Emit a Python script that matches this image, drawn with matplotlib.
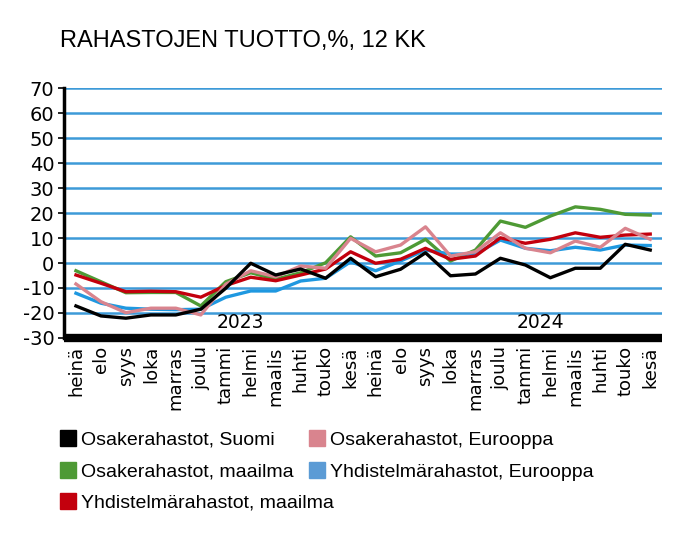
import matplotlib
matplotlib.use("Agg")
import matplotlib.pyplot as plt
from matplotlib.lines import Line2D

plt.rcParams["axes.unicode_minus"] = False

months = ["heinä", "elo", "syys", "loka", "marras", "joulu", "tammi", "helmi",
          "maalis", "huhti", "touko", "kesä",
          "heinä", "elo", "syys", "loka", "marras", "joulu", "tammi", "helmi",
          "maalis", "huhti", "touko", "kesä"]

# 12 kk tuotot, %
osake_suomi = [-17.2, -21.2, -22.1, -20.8, -20.8, -18.5, -10.1, -0.1, -4.8, -2.4, -6.1, 1.9,
               -5.5, -2.5, 4.1, -5.1, -4.4, 1.9, -0.8, -5.9, -2.1, -2.1, 7.5, 5.2]
osake_eurooppa = [-8.4, -15.5, -19.9, -18.1, -18.1, -20.8, -8.5, -3.1, -5.5, -1.2, -2.1, 9.9,
                  4.5, 7.2, 14.5, 2.8, 4.5, 12.1, 5.9, 4.1, 8.8, 6.3, 13.9, 9.5]
osake_maailma = [-3.1, -7.5, -11.9, -11.8, -11.8, -17.2, -7.5, -3.9, -6.5, -3.9, 0.1, 10.5,
                 2.8, 4.1, 9.5, 0.8, 5.2, 16.8, 14.3, 18.8, 22.5, 21.5, 19.5, 19.2]
yhd_eurooppa = [-12.1, -16.1, -18.1, -18.5, -18.7, -18.5, -13.7, -11.2, -11.2, -7.2, -6.1, 0.5,
                -3.1, 0.8, 5.2, 3.6, 3.6, 9.2, 5.9, 4.9, 6.3, 5.2, 7.2, 7.0]
yhd_maailma = [-4.8, -8.1, -11.5, -11.3, -11.5, -13.7, -9.0, -5.7, -7.1, -4.8, -2.4, 4.5,
               -0.1, 1.5, 5.9, 1.5, 2.8, 10.1, 7.9, 9.5, 12.1, 10.3, 11.2, 11.6]

c_black = "#000000"
c_pink = "#d9848e"
c_green = "#4e9a35"
c_blue = "#1f98e0"
c_red = "#c3000d"
c_grid = "#3d9ad8"

fig = plt.figure(figsize=(7, 5.45), dpi=100)
ax = fig.add_axes([0.0914, 0.380, 0.8546, 0.458])

x = list(range(len(months)))

for yv in range(-20, 71, 10):
    ax.axhline(yv, color=c_grid, lw=1.8, zorder=1)

lw = 2.4
ax.plot(x, osake_maailma, color=c_green, lw=lw, zorder=3)
ax.plot(x, yhd_eurooppa, color=c_blue, lw=lw, zorder=3)
ax.plot(x, yhd_maailma, color=c_red, lw=lw, zorder=3)
ax.plot(x, osake_eurooppa, color=c_pink, lw=lw, zorder=3)
ax.plot(x, osake_suomi, color=c_black, lw=lw, zorder=4)

ax.set_xlim(-0.48, 23.48)
ax.set_ylim(-30, 70)
ax.set_yticks(range(-30, 71, 10))
ax.tick_params(axis="y", labelsize=14, length=4, width=1.2, pad=3)
ax.set_xticks(x)
ax.set_xticklabels(months, rotation=90, fontsize=13)
ax.tick_params(axis="x", length=0, pad=6)

for s in ["top", "right"]:
    ax.spines[s].set_visible(False)
ax.spines["left"].set_linewidth(2.5)
ax.spines["bottom"].set_linewidth(6)
ax.spines["bottom"].set_capstyle("butt")

ax.text(6.6, -24, "2023", fontsize=13.5, ha="center", va="center")
ax.text(18.6, -24, "2024", fontsize=13.5, ha="center", va="center")

fig.text(0.086, 0.925, "RAHASTOJEN TUOTTO,%, 12 KK",
         family="Liberation Sans", fontsize=17, va="center")

# legend entries placed one by one (flowing layout as in the original)
labels = ["Osakerahastot, Suomi", "Osakerahastot, Eurooppa",
          "Osakerahastot, maailma", "Yhdistelmärahastot, Eurooppa",
          "Yhdistelmärahastot, maailma"]
colors = [c_black, c_pink, c_green, "#5b9bd5", c_red]
pos_px = [(60, 440), (309, 440), (60, 472), (309, 472), (60, 503)]
for lab, col, (px, py) in zip(labels, colors, pos_px):
    h = Line2D([], [], ls="none", marker="s", markersize=12, color=col)
    fig.legend([h], [lab], loc="center left", bbox_to_anchor=(px / 700, 1 - py / 545),
               frameon=False, handlelength=0.8, handletextpad=0.3, borderpad=0,
               borderaxespad=0, prop={"family": "Liberation Sans", "size": 14})

fig.savefig("out.png", dpi=100)
